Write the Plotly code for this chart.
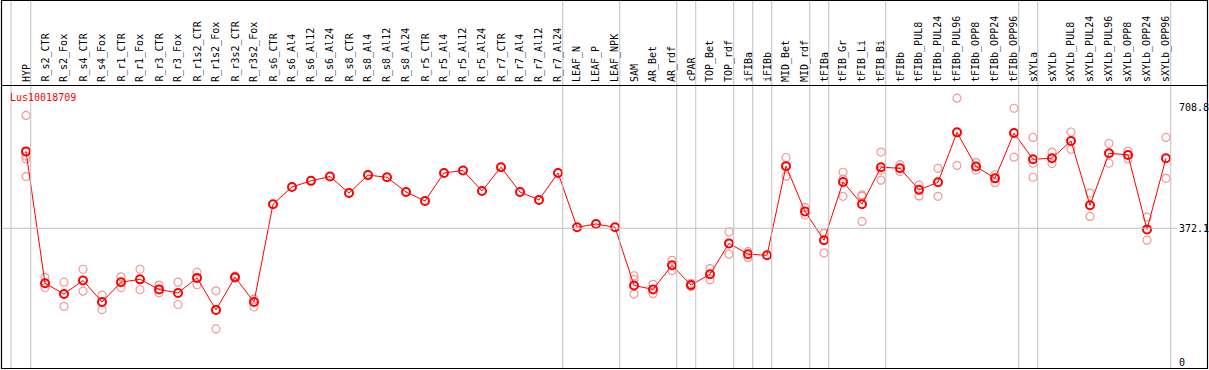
import plotly.graph_objects as go

W, H = 1209, 370

categories = ["HYP", "R_s2_CTR", "R_s2_Fox", "R_s4_CTR", "R_s4_Fox", "R_r1_CTR", "R_r1_Fox",
              "R_r3_CTR", "R_r3_Fox", "R_r1s2_CTR", "R_r1s2_Fox", "R_r3s2_CTR", "R_r3s2_Fox",
              "R_s6_CTR", "R_s6_Al4", "R_s6_Al12", "R_s6_Al24", "R_s8_CTR", "R_s8_Al4", "R_s8_Al12",
              "R_s8_Al24", "R_r5_CTR", "R_r5_Al4", "R_r5_Al12", "R_r5_Al24", "R_r7_CTR", "R_r7_Al4",
              "R_r7_Al12", "R_r7_Al24", "LEAF_N", "LEAF_P", "LEAF_NPK", "SAM", "AR_Bet", "AR_rdf",
              "cPAR", "TOP_Bet", "TOP_rdf", "iFIBa", "iFIBb", "MID_Bet", "MID_rdf", "tFIBa",
              "tFIB_Gr", "tFIB_Li", "tFIB_Bi", "tFIBb", "tFIBb_PUL8", "tFIBb_PUL24", "tFIBb_PUL96",
              "tFIBb_OPP8", "tFIBb_OPP24", "tFIBb_OPP96", "sXYLa", "sXYLb", "sXYLb_PUL8",
              "sXYLb_PUL24", "sXYLb_PUL96", "sXYLb_OPP8", "sXYLb_OPP24", "sXYLb_OPP96"]

mean_values = [586, 219, 189, 227, 167, 222, 230, 202, 192, 234, 145, 236, 167,
               439, 487, 504, 516, 470, 520, 514, 473, 448, 526, 533, 476, 542, 473, 451, 526,
               375, 384, 375, 213, 202, 269, 214, 244, 330, 300, 297, 545, 419, 339,
               501, 439, 542, 539, 479, 500, 639, 544, 511, 637, 564, 567, 615,
               436, 581, 576, 369, 567]

replicate_values = [[686, 573, 565, 516], [235, 219, 207], [222, 155], [258, 197], [186, 146],
                    [237, 207], [258, 201], [214, 193], [222, 160], [250, 215], [198, 92],
                    [239, 233], [175, 153],
                    [], [], [], [], [], [], [], [], [], [], [], [], [], [], [], [],
                    [], [], [], [240, 230, 189], [216, 190], [283, 254], [219, 210], [260, 229],
                    [362, 300], [307, 291], [], [569, 517], [430, 409], [358, 303],
                    [528, 509, 461], [465, 461, 391], [584, 534, 506], [549, 530], [492, 462],
                    [539, 461], [734, 547], [555, 534], [521, 499], [706, 570],
                    [625, 553, 514], [584, 552], [640, 592], [470, 405], [608, 553],
                    [587, 565], [403, 339], [625, 511]]

# separators drawn after these categories
group_ends = ["HYP", "R_r7_Al24", "LEAF_NPK", "AR_rdf", "cPAR", "TOP_rdf", "iFIBa", "iFIBb",
              "MID_rdf", "tFIBa", "tFIB_Bi", "tFIBb_OPP96", "sXYLa", "sXYLb_OPP96"]

y_tick_values = [708.8, 372.1, 0]
y_tick_labels = ["708.8", "372.1", "0"]
gene_name = "Lus10018709"

# pixel geometry helpers
X0, DX = 26.0, 19.0            # pixel of first category and spacing
Y0PIX, YSCALE = 362.0, 0.3594  # pixel of value 0 and px per unit
xr = [(0 - X0) / DX, (W - X0) / DX]
yr = [(Y0PIX - H) / YSCALE, Y0PIX / YSCALE]


def px(p):
    return p / W


def py(p):
    return 1 - p / H


FONT = "DejaVu Sans Mono"
idx = list(range(len(categories)))

fig = go.Figure()

rx, ry = [], []
for i, reps in enumerate(replicate_values):
    for v in reps:
        rx.append(i)
        ry.append(v)
fig.add_trace(go.Scatter(x=rx, y=ry, mode="markers",
                         marker=dict(symbol="circle-open", size=8, color="#ee9a9a",
                                     line=dict(width=1.2, color="#ee9a9a")),
                         hoverinfo="skip", showlegend=False))
fig.add_trace(go.Scatter(x=idx, y=mean_values, mode="lines+markers",
                         line=dict(color="#ff0000", width=1),
                         marker=dict(symbol="circle-open", size=8, color="#ff0000",
                                     line=dict(width=2, color="#ff0000")),
                         showlegend=False))

shapes = []
for name in group_ends:
    xi = categories.index(name) + 0.25
    shapes.append(dict(type="line", xref="x", yref="paper", x0=xi, x1=xi,
                       y0=py(368.5), y1=py(0), line=dict(color="#c0c0c0", width=1)))
xi = (11 - X0) / DX
shapes.append(dict(type="line", xref="x", yref="paper", x0=xi, x1=xi,
                   y0=py(368.5), y1=py(0), line=dict(color="#c0c0c0", width=1)))
shapes.append(dict(type="line", xref="paper", yref="y", x0=px(1), x1=px(1177),
                   y0=372.1, y1=372.1, line=dict(color="#c0c0c0", width=1)))
for (a, b, c, d) in [(1, 0.5, 1208, 0.5), (1, 85.5, 1208, 85.5), (1, 368.5, 1208, 368.5),
                     (1.5, 0, 1.5, 369), (1207.5, 0, 1207.5, 369)]:
    shapes.append(dict(type="line", xref="paper", yref="paper", x0=px(a), x1=px(c),
                       y0=py(b), y1=py(d), line=dict(color="#000000", width=1.2)))

annotations = []
for i, name in enumerate(categories):
    annotations.append(dict(x=i, y=py(83), xref="x", yref="paper", text=name,
                            textangle=-90, showarrow=False, xanchor="center", yanchor="bottom",
                            borderpad=0, font=dict(family=FONT, size=10, color="#000000")))
for v, t in zip(y_tick_values, y_tick_labels):
    annotations.append(dict(x=px(1178), y=v, xref="paper", yref="y", text=t, showarrow=False,
                            xanchor="left", yanchor="middle", borderpad=0,
                            font=dict(family=FONT, size=10, color="#000000")))
annotations.append(dict(x=px(9), y=py(97), xref="paper", yref="paper", text=gene_name,
                        showarrow=False, xanchor="left", yanchor="middle", borderpad=0,
                        font=dict(family=FONT, size=10, color="#ff0000")))

fig.update_layout(width=W, height=H, margin=dict(l=0, r=0, t=0, b=0),
                  paper_bgcolor="white", plot_bgcolor="white",
                  xaxis=dict(range=xr, visible=False, fixedrange=True),
                  yaxis=dict(range=yr, visible=False, fixedrange=True),
                  shapes=shapes, annotations=annotations, showlegend=False)

fig.write_html("out.html", config={"displayModeBar": False},
               post_script="document.body.style.margin='0px';document.body.style.overflow='hidden';")
